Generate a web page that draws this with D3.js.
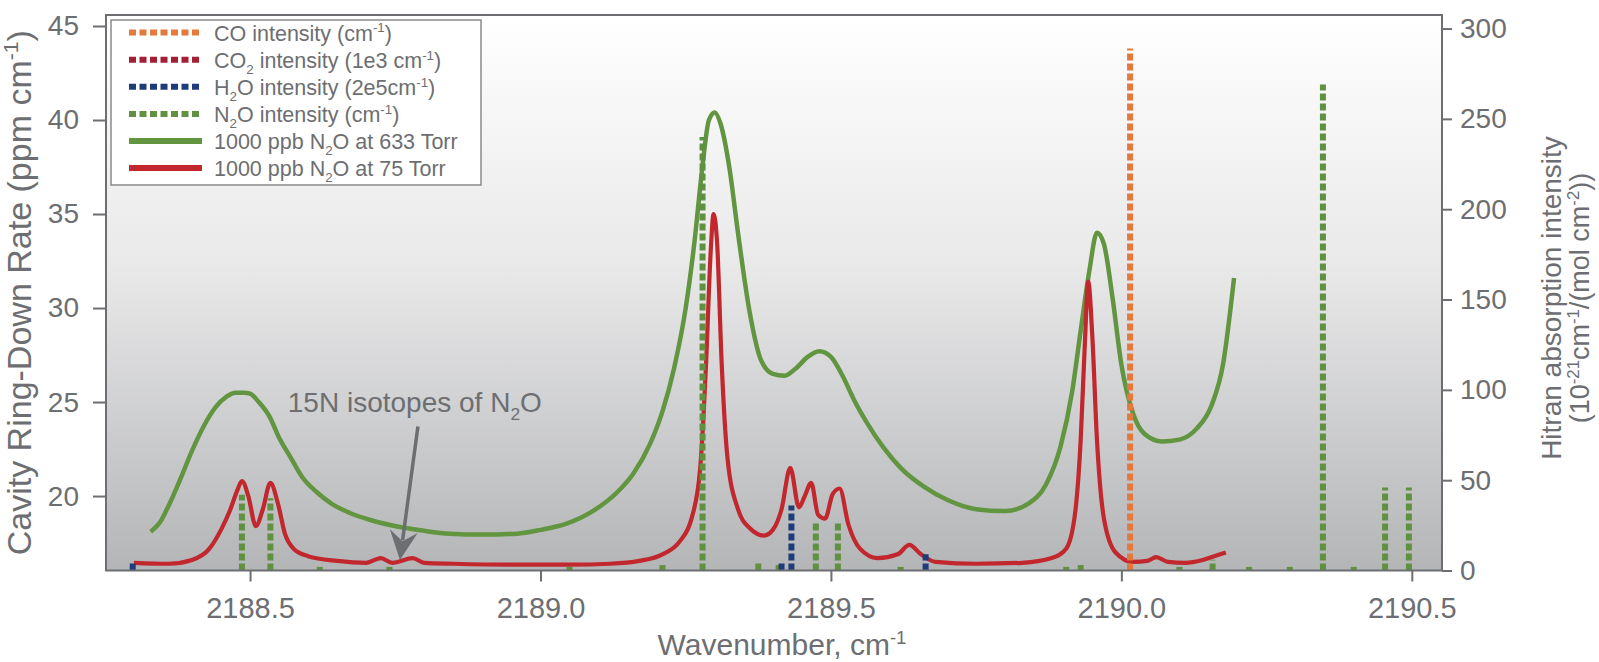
<!DOCTYPE html>
<html>
<head>
<meta charset="utf-8">
<script src="https://cdn.jsdelivr.net/npm/d3@7"></script>
<style>
body{margin:0;background:#fff;}
text{font-family:"Liberation Sans",Arial,sans-serif;fill:#6d6e71;}
</style>
</head>
<body>
<div id="chart"></div>
<script>
// measured spectra (wavenumber cm-1, ring-down rate ppm cm-1)
const wn633=[2188.329,2188.345,2188.36,2188.38,2188.40,2188.42,2188.44,2188.46,2188.475,2188.49,2188.50,2188.515,2188.534,2188.55,2188.569,2188.59,2188.615,2188.64,2188.672,2188.71,2188.758,2188.80,2188.844,2188.901,2188.96,2189.00,2189.046,2189.09,2189.132,2189.16,2189.189,2189.21,2189.23,2189.25,2189.265,2189.278,2189.29,2189.30,2189.31,2189.325,2189.34,2189.36,2189.38,2189.40,2189.42,2189.44,2189.46,2189.48,2189.50,2189.52,2189.54,2189.56,2189.59,2189.62,2189.66,2189.70,2189.75,2189.80,2189.84,2189.87,2189.895,2189.915,2189.93,2189.945,2189.958,2189.97,2189.985,2190.00,2190.02,2190.04,2190.07,2190.10,2190.13,2190.155,2190.175,2190.194];
const ppm633=[18.1,18.6,19.5,20.9,22.4,23.7,24.7,25.3,25.5,25.5,25.45,25.0,24.2,23.1,22.1,21.0,20.2,19.6,19.1,18.7,18.35,18.15,18.0,17.95,18.0,18.2,18.55,19.2,20.2,21.2,22.8,24.5,26.8,30.0,33.5,37.3,40.0,40.4,39.8,37.5,34.0,29.8,27.2,26.5,26.4,26.8,27.4,27.7,27.4,26.4,25.1,24.0,22.6,21.5,20.5,19.8,19.3,19.2,19.6,20.6,22.6,25.5,28.8,32.0,34.0,33.4,30.5,27.0,24.4,23.3,22.9,23.0,23.6,24.8,27.0,31.6];

const wn75=[2188.30,2188.36,2188.40,2188.43,2188.45,2188.465,2188.478,2188.486,2188.497,2188.51,2188.522,2188.535,2188.548,2188.56,2188.575,2188.60,2188.65,2188.70,2188.725,2188.745,2188.78,2188.80,2188.85,2188.95,2189.05,2189.12,2189.17,2189.21,2189.24,2189.26,2189.275,2189.285,2189.293,2189.298,2189.304,2189.312,2189.322,2189.34,2189.36,2189.385,2189.40,2189.415,2189.43,2189.445,2189.455,2189.466,2189.478,2189.49,2189.503,2189.515,2189.53,2189.55,2189.58,2189.615,2189.635,2189.655,2189.68,2189.75,2189.83,2189.88,2189.905,2189.92,2189.93,2189.937,2189.943,2189.95,2189.958,2189.97,2189.99,2190.02,2190.045,2190.06,2190.08,2190.11,2190.14,2190.16,2190.18];
const ppm75=[16.45,16.4,16.6,17.2,18.2,19.2,20.3,20.8,20.0,18.4,19.3,20.7,19.6,18.0,17.2,16.8,16.55,16.45,16.7,16.45,16.7,16.45,16.4,16.35,16.35,16.4,16.55,16.9,17.6,18.8,21.5,27.0,33.0,35.0,33.5,27.0,22.0,19.3,18.3,17.9,18.2,19.3,21.5,19.4,20.0,20.7,19.0,18.8,20.1,20.4,18.5,17.2,16.7,16.9,17.4,16.9,16.5,16.4,16.45,16.7,17.2,19.0,23.0,28.0,31.4,28.5,23.0,18.8,17.0,16.5,16.55,16.75,16.5,16.45,16.6,16.8,17.0];

// Hitran line intensities (right axis)
const coWn=[2190.015];
const coInt=[289];
const h2oWn=[2188.298,2189.415,2189.432,2189.663];
const h2oInt=[5,5,36,9];
const n2oWn=[2188.486,2188.535,2188.62,2188.74,2189.05,2189.21,2189.279,2189.375,2189.41,2189.474,2189.512,2189.62,2189.905,2189.93,2190.10,2190.157,2190.22,2190.29,2190.347,2190.40,2190.454,2190.495];
const n2oInt=[42,40,2,2,2,3,240,5,3,27,26,2,2,3,2,6,2,2,269,2,46,46];

const xTicks=[2188.5,2189.0,2189.5,2190.0,2190.5];
const yLeftTicks=[20,25,30,35,40,45];
const yRightTicks=[0,50,100,150,200,250,300];

const legendLabels=["CO intensity (cm^{-1})","CO_{2} intensity (1e3 cm^{-1})","H_{2}O intensity (2e5cm^{-1})","N_{2}O intensity (cm^{-1})","1000 ppb N_{2}O at 633 Torr","1000 ppb N_{2}O at 75 Torr"];

const W=1599,H=662;
const m={top:15,right:157,bottom:91.5,left:106};
const C={co:"#e5793b",co2:"#a31f34",h2o:"#1f3c7a",n2o:"#5f9140",g:"#62953f",r:"#c1272d",axis:"#6d6e71"};

// writes "a_{2}b^{-1}" as tspans
function rich(t,str,size){
  let shift=0;
  str.split(/(_\{[^}]*\}|\^\{[^}]*\})/).filter(s=>s).forEach(p=>{
    let target=0,txt=p,fs=size;
    if(p.startsWith("_{")){target=size*0.28;txt=p.slice(2,-1);fs=size*0.62;}
    else if(p.startsWith("^{")){target=-size*0.38;txt=p.slice(2,-1);fs=size*0.62;}
    t.append("tspan").attr("dy",target-shift).attr("font-size",fs).text(txt);
    shift=target;
  });
}

window.onload=()=>{
  const svg=d3.select("#chart").append("svg").attr("width",W).attr("height",H);

  const x=d3.scaleLinear().domain([2188.252,2190.552]).range([m.left,W-m.right]);
  const yL=d3.scaleLinear().domain([16.04,45.585]).range([H-m.bottom,m.top]);
  const yR=d3.scaleLinear().domain([0,307.5]).range([H-m.bottom,m.top]);

  const grad=svg.append("defs").append("linearGradient").attr("id","bg")
    .attr("x1",0).attr("y1",0).attr("x2",0).attr("y2",1);
  grad.append("stop").attr("offset",0).attr("stop-color","#ffffff");
  grad.append("stop").attr("offset",0.45).attr("stop-color","#e9e9ea");
  grad.append("stop").attr("offset",1).attr("stop-color","#b4b5b7");

  svg.append("rect").attr("x",m.left).attr("y",m.top)
    .attr("width",W-m.left-m.right).attr("height",H-m.top-m.bottom)
    .attr("fill","url(#bg)");

  const line=d3.line().x(d=>x(d[0])).y(d=>yL(d[1])).curve(d3.curveMonotoneX);
  svg.append("path").datum(d3.zip(wn633,ppm633)).attr("d",line)
    .attr("fill","none").attr("stroke",C.g).attr("stroke-width",4.5).attr("stroke-linejoin","round");
  svg.append("path").datum(d3.zip(wn75,ppm75)).attr("d",line)
    .attr("fill","none").attr("stroke",C.r).attr("stroke-width",4.2).attr("stroke-linejoin","round");

  function sticks(wn,val,color){
    svg.append("g").selectAll("line").data(d3.zip(wn,val)).join("line")
      .attr("x1",d=>x(d[0])).attr("x2",d=>x(d[0]))
      .attr("y1",yR(0)).attr("y2",d=>yR(d[1]))
      .attr("stroke",color).attr("stroke-width",6).attr("stroke-dasharray","7,3");
  }
  sticks(n2oWn,n2oInt,C.n2o);
  sticks(h2oWn,h2oInt,C.h2o);
  sticks(coWn,coInt,C.co);

  // frame
  svg.append("rect").attr("x",m.left).attr("y",m.top)
    .attr("width",W-m.left-m.right).attr("height",H-m.top-m.bottom)
    .attr("fill","none").attr("stroke",C.axis).attr("stroke-width",2);

  const gx=svg.append("g").attr("transform",`translate(0,${H-m.bottom})`)
    .call(d3.axisBottom(x).tickValues(xTicks).tickFormat(d3.format(".1f")).tickSize(11).tickPadding(16));
  const gl=svg.append("g").attr("transform",`translate(${m.left},0)`)
    .call(d3.axisLeft(yL).tickValues(yLeftTicks).tickSize(13).tickPadding(14));
  const gr=svg.append("g").attr("transform",`translate(${W-m.right},0)`)
    .call(d3.axisRight(yR).tickValues(yRightTicks).tickSize(10).tickPadding(8));
  [gx,gl,gr].forEach(g=>{
    g.select(".domain").remove();
    g.selectAll(".tick line").attr("stroke",C.axis).attr("stroke-width",2);
    g.selectAll(".tick text").attr("fill",C.axis).style("font-size","28px")
      .style("font-family","'Liberation Sans',Arial,sans-serif");
  });
  gx.selectAll(".tick text").style("font-family","'Liberation Sans Narrow','Arial Narrow',sans-serif")
    .style("font-size","29px");

  // axis titles
  const tl=svg.append("text").attr("transform",`translate(31,${(m.top+H-m.bottom)/2}) rotate(-90)`)
    .attr("text-anchor","middle").style("font-size","34px");
  rich(tl,"Cavity Ring-Down Rate (ppm cm^{-1})",34);
  const tb=svg.append("text").attr("x",782).attr("y",655).attr("text-anchor","middle").style("font-size","30px");
  rich(tb,"Wavenumber, cm^{-1}",30);
  const tr1=svg.append("text").attr("transform",`translate(1561,298) rotate(-90)`)
    .attr("text-anchor","middle").style("font-size","28px");
  rich(tr1,"Hitran absorption intensity",28);
  const tr2=svg.append("text").attr("transform",`translate(1589,298) rotate(-90)`)
    .attr("text-anchor","middle").style("font-size","27px");
  rich(tr2,"(10^{-21}cm^{-1}/(mol cm^{-2}))",27);

  // annotation
  const at=svg.append("text").attr("x",x(2188.565)).attr("y",yL(24.47)).style("font-size","28px");
  rich(at,"15N isotopes of N_{2}O",28);
  const p0=[x(2188.789),yL(23.7)],tip=[x(2188.758),yL(16.6)];
  const dx=tip[0]-p0[0],dy=tip[1]-p0[1],len=Math.hypot(dx,dy);
  const u=[dx/len,dy/len],n=[-u[1],u[0]];
  const base=[tip[0]-u[0]*26,tip[1]-u[1]*26];
  svg.append("line").attr("x1",p0[0]).attr("y1",p0[1]).attr("x2",base[0]+u[0]*6).attr("y2",base[1]+u[1]*6)
    .attr("stroke",C.axis).attr("stroke-width",3.5);
  svg.append("path").attr("fill",C.axis).attr("d",
    `M${tip[0]},${tip[1]}L${base[0]+n[0]*14-u[0]*3},${base[1]+n[1]*14-u[1]*3}`+
    `L${base[0]+u[0]*7},${base[1]+u[1]*7}L${base[0]-n[0]*14-u[0]*3},${base[1]-n[1]*14-u[1]*3}Z`);

  // legend
  const lg=svg.append("g");
  lg.append("rect").attr("x",111).attr("y",20).attr("width",370).attr("height",165)
    .attr("fill","#fff").attr("stroke","#8a8a8a").attr("stroke-width",1.5);
  const styles=[[C.co,true],[C.co2,true],[C.h2o,true],[C.n2o,true],[C.g,false],[C.r,false]];
  legendLabels.forEach((lab,i)=>{
    const cy=32.6+27.1*i;
    lg.append("line").attr("x1",129).attr("x2",202).attr("y1",cy).attr("y2",cy)
      .attr("stroke",styles[i][0]).attr("stroke-width",6)
      .attr("stroke-dasharray",styles[i][1]?"7,3.5":null);
    const t=lg.append("text").attr("x",214).attr("y",cy+8).style("font-size","21.5px");
    rich(t,lab,21.5);
  });
};
</script>
</body>
</html>
